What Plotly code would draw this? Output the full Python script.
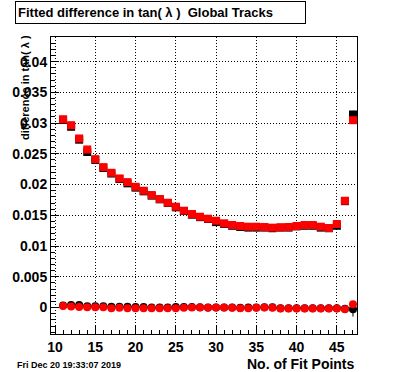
import plotly.graph_objects as go

fit_points = list(range(11, 48))

red_upper = [0.03063, 0.02966, 0.0275, 0.02571, 0.02414, 0.02284, 0.02192, 0.0210, 0.0204, 0.01964,
             0.0190, 0.0183, 0.01765, 0.01705, 0.0164, 0.01575, 0.01521, 0.01477, 0.01445, 0.01412,
             0.0137, 0.01343, 0.01326, 0.01315, 0.01315, 0.0131, 0.01299, 0.01304, 0.0131, 0.01326,
             0.01343, 0.01343, 0.01315, 0.01294, 0.01359, 0.01737, 0.03047]
black_upper = [0.0305, 0.0294, 0.0273, 0.0253, 0.0240, 0.0227, 0.0218, 0.0209, 0.0202, 0.0195,
               0.0189, 0.0182, 0.0176, 0.0170, 0.0163, 0.0157, 0.0151, 0.0147, 0.0144, 0.0139,
               0.0136, 0.0133, 0.0131, 0.0130, 0.0130, 0.0130, 0.0129, 0.0130, 0.0130, 0.0132,
               0.0133, 0.0133, 0.0130, 0.0129, 0.0133, 0.0173, 0.0314]
black_upper_err = [0.00005] * 36 + [0.0006]

red_lower = [0.00027, 0.00016, 0.00011, 0.00005, 0.00005, 0.00005, -0.00011, -0.00005, -0.00011, -0.00011,
             -0.00011, -0.00011, -0.00011, -0.00011, -0.00011, -0.00005, 0.0, 0.0, -0.00005, 0.0,
             0.0, -0.00005, -0.0001, -0.0001, -0.00005, 0.0, -0.00005, -0.00016, -0.00016, -0.00016,
             -0.00016, -0.00016, -0.00016, -0.00016, -0.00016, -0.00027, 0.00054]
black_lower = [0.00035, 0.0004, 0.0004, 0.0002, 0.0002, 0.0002, 0.00012, 0.00012, 0.00012, 0.00008,
               0.0001, 0.0, 0.0, 0.0, 0.0001, 0.0001, 0.0001, 0.00005, 0.0, 0.0,
               0.0, 0.0, -0.00005, 0.0, 0.0, 0.00005, 0.00005, -0.0001, -0.0001, -0.0001,
               -0.0001, -0.0001, -0.0001, -0.0001, -0.0001, -0.0002, -0.00027]
black_lower_err = [0.00005] * 36 + [0.0012]

x_ticks = [10, 15, 20, 25, 30, 35, 40, 45]
y_ticks = [0, 0.005, 0.01, 0.015, 0.02, 0.025, 0.03, 0.035, 0.04]
y_ticktext = ["0", "0.005", "0.01", "0.015", "0.02", "0.025", "0.03", "0.035", "0.04"]

FONT = "Liberation Sans"
W, H = 396, 372
L, R, T, B = 40, 357, 37, 334

def px(xp):
    return (xp - L) / (R - L)

def py(yp):
    return (B - yp) / (B - T)

fig = go.Figure()
half = [0.5] * len(fit_points)

fig.add_trace(go.Scatter(x=fit_points, y=black_upper, mode="markers",
                         marker=dict(symbol="square", size=8, color="black"),
                         error_x=dict(type="data", array=half, color="black", thickness=1, width=0),
                         error_y=dict(type="data", array=black_upper_err, color="black", thickness=1, width=0),
                         showlegend=False))
fig.add_trace(go.Scatter(x=fit_points, y=black_lower, mode="markers",
                         marker=dict(symbol="circle", size=8, color="black"),
                         error_x=dict(type="data", array=half, color="black", thickness=1, width=0),
                         error_y=dict(type="data", array=black_lower_err, color="black", thickness=1, width=0),
                         showlegend=False))
fig.add_trace(go.Scatter(x=fit_points, y=red_upper, mode="markers",
                         marker=dict(symbol="square", size=8, color="#ff0000"),
                         showlegend=False))
fig.add_trace(go.Scatter(x=fit_points, y=red_lower, mode="markers",
                         marker=dict(symbol="circle", size=8, color="#ff0000"),
                         showlegend=False))

axis_common = dict(showline=True, linecolor="black", linewidth=1, mirror=True,
                   showgrid=True, gridcolor="black", griddash="1px,2px", gridwidth=1,
                   zeroline=False, ticks="inside", tickcolor="black", tickwidth=1,
                   tickfont=dict(family=FONT, size=14, color="black", weight="bold"))

fig.update_xaxes(range=[9.5, 47.5], tickvals=x_ticks, ticklen=9,
                 minor=dict(dtick=1, ticks="inside", ticklen=4, tickcolor="black", showgrid=False),
                 **axis_common)
fig.update_yaxes(range=[-0.0043, 0.044], tickvals=y_ticks, ticktext=y_ticktext, ticklen=8,
                 minor=dict(dtick=0.001, tick0=0, ticks="inside", ticklen=4, tickcolor="black", showgrid=False),
                 **axis_common)

fig.update_layout(
    width=W, height=H,
    margin=dict(l=L, r=W - R, t=T, b=H - B, pad=0),
    paper_bgcolor="white", plot_bgcolor="white",
    annotations=[
        dict(text="Fitted difference in tan( λ )  Global Tracks", xref="paper", yref="paper",
             x=px(3), y=py(1), xanchor="left", yanchor="top", showarrow=False,
             align="left", width=285, height=17, borderpad=2,
             bordercolor="black", borderwidth=1, bgcolor="white",
             font=dict(family=FONT, size=13, color="black", weight="bold")),
        dict(text="difference in tan( λ )", xref="paper", yref="paper",
             x=px(13), y=py(87), xanchor="center", yanchor="middle", showarrow=False,
             textangle=-90,
             font=dict(family=FONT, size=11, color="black", weight="bold")),
        dict(text="No. of Fit Points", xref="paper", yref="paper",
             x=px(357), y=py(364), xanchor="right", yanchor="middle", showarrow=False,
             font=dict(family=FONT, size=14, color="black", weight="bold")),
        dict(text="Fri Dec 20 19:33:07 2019", xref="paper", yref="paper",
             x=px(3), y=py(365), xanchor="left", yanchor="middle", showarrow=False,
             font=dict(family=FONT, size=9, color="black", weight="bold")),
    ],
)

fig.write_html("out.html", config={"displayModeBar": False},
               post_script="document.body.style.margin='0';document.body.style.overflow='hidden';")
